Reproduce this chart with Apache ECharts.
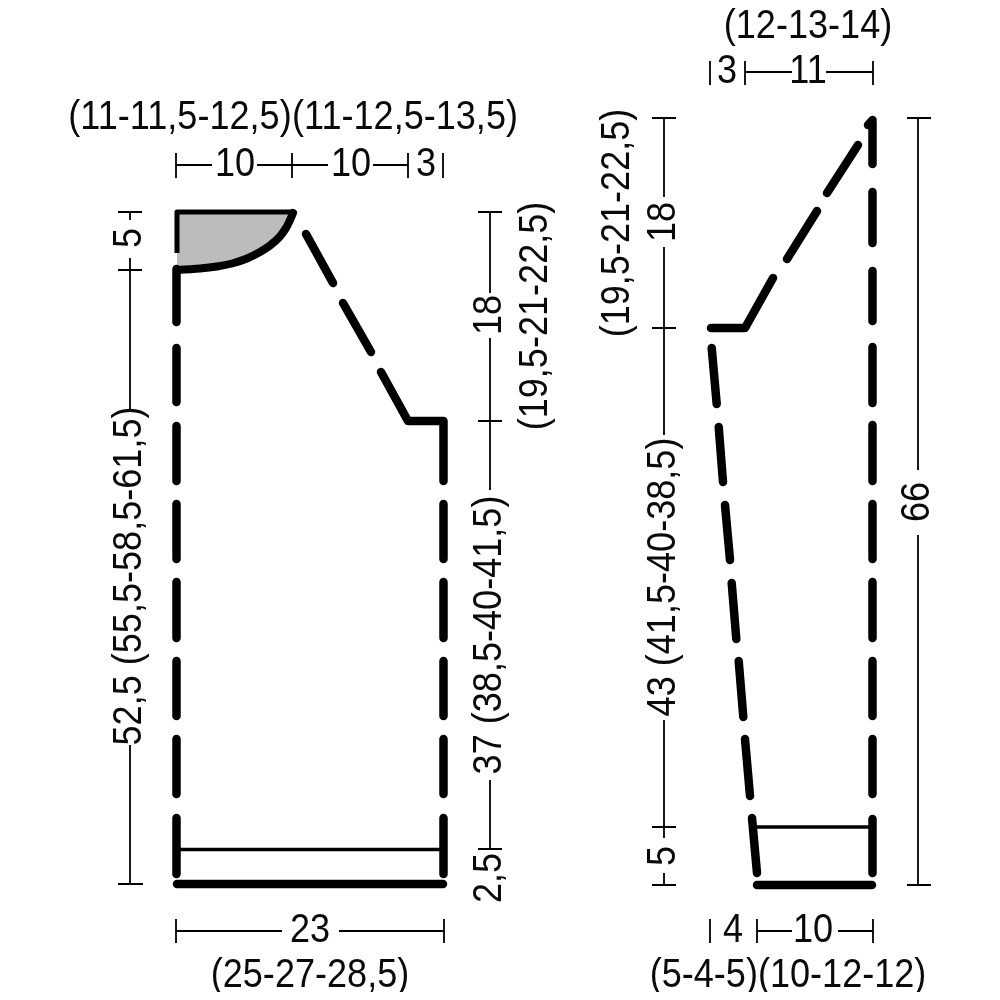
<!DOCTYPE html>
<html><head><meta charset="utf-8">
<style>html,body{margin:0;padding:0;background:#fff}#c{width:1000px;height:992px}</style>
<script src="https://cdn.jsdelivr.net/npm/echarts@6/dist/echarts.min.js"></script>
</head><body><div id="c"></div>
<script>
// Garment outlines (x, y on the sheet)
const neckFill = [[177,270],[200,268.5],[217,266.5],[232,263.5],[247,258.5],[260,252],[270,245.5],[279,237.5],[286,228],[290,220],[293,213]];
const neckTop = [[[177,253],[177,212],[293,212]]];
const bodyHeavy = [
  [[176.5,269],[176.5,322]],[[176.5,348],[176.5,402]],[[176.5,426],[176.5,481]],[[176.5,504],[176.5,559]],
  [[176.5,582],[176.5,638]],[[176.5,661],[176.5,716]],[[176.5,739],[176.5,794]],[[176.5,818],[176.5,874]],
  [[306,234],[333,283]],[[343,303],[371,352]],[[381,372],[408,421],[443.5,421],[443.5,481]],
  [[443.5,504],[443.5,559]],[[443.5,582],[443.5,638]],[[443.5,661],[443.5,716]],[[443.5,739],[443.5,794]],[[443.5,818],[443.5,874]],
  [[177,884],[443,884]]
];
const sleeveHeavy = [
  [[872.5,122],[872.5,164]],[[868,125],[872.5,120]],[[872.5,192],[872.5,243]],[[872.5,271],[872.5,321]],[[872.5,347],[872.5,403]],
  [[872.5,425],[872.5,481]],[[872.5,504],[872.5,559]],[[872.5,582],[872.5,638]],[[872.5,661],[872.5,716]],
  [[872.5,739],[872.5,794]],[[872.5,819],[872.5,873]],
  [[858,145],[827,193]],[[817,211],[787,259]],[[773,278],[745,328],[711,328]],
  [[711.7,348],[716.7,404]],[[718.7,427],[723,482]],[[725,505],[730,560]],[[731.7,583],[736.3,639]],
  [[738.7,661],[743.3,717]],[[745,739],[750,796]],[[752,818],[757,873]],
  [[757,885],[872,885]]
];
const hemLines = [[[177,849.5],[444,849.5]],[[755,827],[873,827]]];
// Dimension lines and ticks
const dimLines = [
  [[176,165],[212,165]],[[176,153],[176,178]],[[257,165],[328,165]],[[292,153],[292,178]],[[373,165],[408,165]],[[408,153],[408,178]],[[443,153],[443,178]],
  [[118,212],[142,212]],[[130,212],[130,220]],[[130,258],[130,410]],[[118,270],[142,270]],[[130,745],[130,884]],[[118,884],[143,884]],
  [[478,212],[502,212]],[[490,212],[490,293]],[[490,338],[490,490]],[[478,421],[502,421]],[[490,780],[490,849]],[[478,849],[502,849]],
  [[176,931],[282,931]],[[339,931],[444,931]],[[176,919],[176,943]],[[444,919],[444,943]],
  [[710,61],[710,85]],[[745,61],[745,85]],[[745,72],[792,72]],[[826,72],[873,72]],[[873,61],[873,85]],
  [[652,118],[676,118]],[[664,118],[664,197]],[[664,247],[664,435]],[[652,328],[676,328]],[[664,720],[664,838]],[[652,827],[676,827]],[[664,873],[664,885]],[[652,885],[676,885]],
  [[907,118],[931,118]],[[918,118],[918,470]],[[918,535],[918,885]],[[907,885],[931,885]],
  [[710,919],[710,943]],[[757,919],[757,943]],[[757,931],[792,931]],[[838,931],[873,931]],[[873,919],[873,943]]
];
// Text
const flatLabels = ['(12-13-14)','3','11','(11-11,5-12,5)','(11-12,5-13,5)','10','10','3','23','(25-27-28,5)','4','10','(5-4-5)(10-12-12)'];
const flatAnchors = [[808,27],[727,72],[808,72],[180,118],[405,118],[235,165],[351,165],[426,165],[310,931],[310,976],[733,931],[813,931],[788,976]];
const upLabels = ['5','52,5 (55,5-58,5-61,5)','18','(19,5-21-22,5)','37 (38,5-40-41,5)','2,5','18','(19,5-21-22,5)','43 (41,5-40-38,5)','5','66'];
const upAnchors = [[130,238],[130,576],[490,315],[536,316],[490,635],[490,878],[664,222],[618,223],[664,577],[664,856],[918,502]];

const join = segs => segs.flatMap((s,i)=> i ? [[null,null],...s] : s);
const line = (data,width,cap,extra) => Object.assign({
  type:'line',data:data,showSymbol:false,symbol:'none',silent:true,animation:false,connectNulls:false,
  lineStyle:{color:'#000',width:width,cap:cap,join:'round'}
},extra||{});
const text = (labels,anchors,rot) => ({
  type:'custom',silent:true,animation:false,clip:false,
  encode:{x:0,y:1},data:anchors,
  renderItem:(params,api)=>{
    const p = api.coord([api.value(0),api.value(1)]);
    return {type:'text',x:p[0],y:p[1],rotation:rot,scaleX:0.88,
      style:{text:labels[params.dataIndex],fontFamily:'"Liberation Sans",Arial,sans-serif',fontSize:41,
             fill:'#0a0a0a',align:'center',verticalAlign:'middle'}};
  }
});
const chart = echarts.init(document.getElementById('c'),null,{renderer:'canvas'});
chart.setOption({
  animation:false,backgroundColor:'#fff',
  grid:{left:0,right:0,top:0,bottom:0},
  xAxis:{type:'value',min:0,max:1000,show:false},
  yAxis:{type:'value',min:0,max:992,inverse:true,show:false},
  series:[
    line(neckFill,8,'round',{smooth:0.3,areaStyle:{color:'#bbbcbe',opacity:1,origin:212}}),
    line(join(neckTop),5,'butt'),
    line(join(bodyHeavy),8.5,'round'),
    line(join(sleeveHeavy),8.5,'round'),
    line(join(hemLines),3.5,'butt'),
    line(join(dimLines),1.8,'butt'),
    text(flatLabels,flatAnchors,0),
    text(upLabels,upAnchors,Math.PI/2)
  ]
});
</script></body></html>
